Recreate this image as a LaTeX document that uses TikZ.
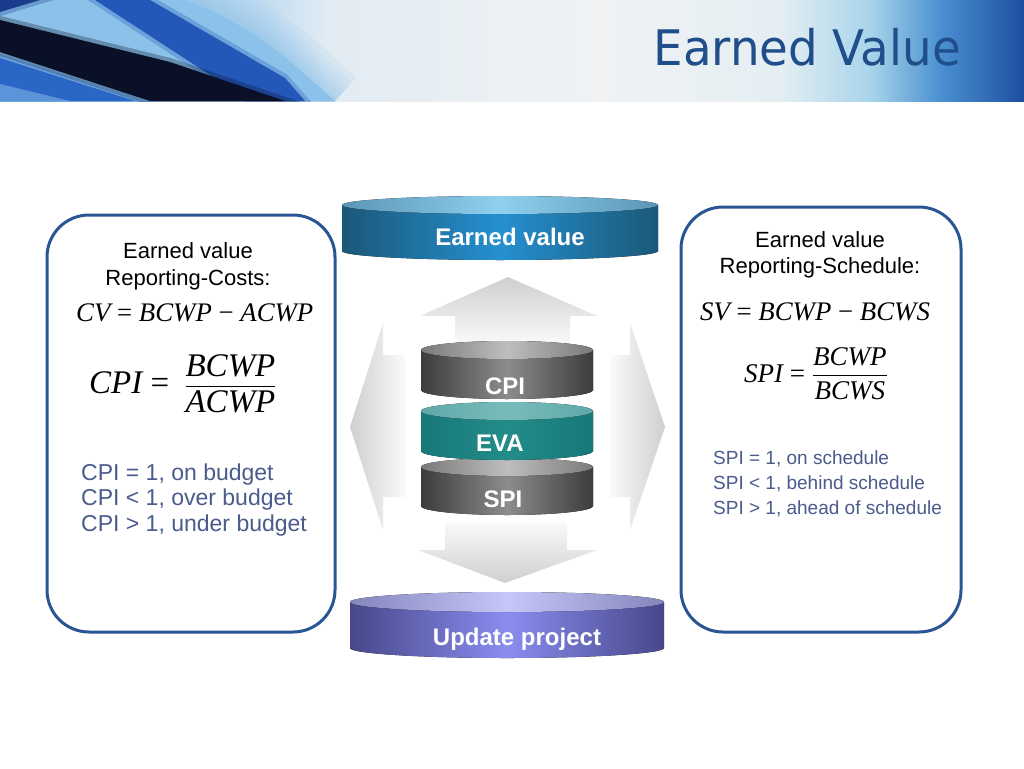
\documentclass[tikz,border=0pt]{standalone}
\usepackage{fontspec}
\usepackage{amsmath}
\setmainfont{Liberation Sans}
\newfontfamily\eqf{Liberation Serif}
\newfontfamily\ttlf[FakeStretch=1.06]{DejaVu Sans Condensed}
\definecolor{hA}{HTML}{9CC8EA}
\definecolor{hB}{HTML}{A8D0EE}
\definecolor{hC}{HTML}{C4DCF0}
\definecolor{hE}{HTML}{E2ECF3}
\definecolor{hF}{HTML}{F0F2F4}
\definecolor{hG}{HTML}{E4EEF3}
\definecolor{hH}{HTML}{A8D4EA}
\definecolor{hI}{HTML}{4A90D0}
\definecolor{hJ}{HTML}{1E4EA0}
\definecolor{lblue}{HTML}{8CC2EA}
\definecolor{sblue}{HTML}{2358B8}
\definecolor{mblue}{HTML}{2A66C6}
\definecolor{cblue}{HTML}{1A3C8C}
\definecolor{navy}{HTML}{0A1028}
\definecolor{titlec}{HTML}{1F4E8A}
\definecolor{boxc}{HTML}{2A5594}
\definecolor{bulc}{HTML}{4A5B8C}
\definecolor{evEdge}{HTML}{1A5878}
\definecolor{evMid}{HTML}{2590D0}
\definecolor{evTopE}{HTML}{5B95B5}
\definecolor{evTopM}{HTML}{90D0EE}
\definecolor{upEdge}{HTML}{46488A}
\definecolor{upMid}{HTML}{8A8CF0}
\definecolor{upTopE}{HTML}{8486BC}
\definecolor{upTopM}{HTML}{C6C6F8}
\definecolor{gEdge}{HTML}{3C3C3C}
\definecolor{gMid}{HTML}{8C8C8C}
\definecolor{gTopE}{HTML}{7A7A7A}
\definecolor{gTopM}{HTML}{BEBEBE}
\definecolor{tEdge}{HTML}{18787A}
\definecolor{tMid}{HTML}{228C88}
\definecolor{tTopE}{HTML}{5EA8A8}
\definecolor{tTopM}{HTML}{78BCBA}
\definecolor{arrD}{HTML}{CFCFCF}
\definecolor{arrL}{HTML}{FAFAFA}
\pgfdeclarehorizontalshading{hdr}{100bp}{color(0bp)=(hA); color(25bp)=(hA);
 color(30.9bp)=(hB); color(38bp)=(hC); color(41.1bp)=(hE);
 color(54.3bp)=(hF); color(63.1bp)=(hG); color(67.5bp)=(hH); color(70.9bp)=(hI);
 color(75bp)=(hJ); color(100bp)=(hJ)}
% cx, rx, ytop, ybot, ry, bodyEdge, bodyMid, topEdge, topMid
\newcommand\mycyl[9]{%
 \pgfmathsetmacro\cylxa{#1-#2}\pgfmathsetmacro\cylxb{#1+#2}%
 \pgfmathsetmacro\cylkx{0.5523*#2}\pgfmathsetmacro\cylky{0.5523*#5}%
 \fill[left color=#6,right color=#6,middle color=#7] (\cylxa,#3) -- (\cylxa,#4)
   .. controls (\cylxa,{#4+\cylky}) and ({#1-\cylkx},{#4+#5}) .. (#1,{#4+#5})
   .. controls ({#1+\cylkx},{#4+#5}) and (\cylxb,{#4+\cylky}) .. (\cylxb,#4)
   -- (\cylxb,#3) -- cycle;
 \fill[left color=#8,right color=#8,middle color=#9] (#1,#3) ellipse[x radius=#2,y radius=#5];
}
\begin{document}
\begin{tikzpicture}[x=1pt,y=-1pt,
  hd/.style={font=\fontsize{22}{26}\selectfont,anchor=base,inner sep=0pt},
  bul/.style={font=\fontsize{23}{26}\selectfont,text=bulc,anchor=base west,inner sep=0pt},
  bulr/.style={font=\fontsize{19}{23}\selectfont,text=bulc,anchor=base west,inner sep=0pt},
  eqn/.style={font=\eqf\fontsize{26.8}{30}\selectfont,anchor=base west,inner sep=0pt},
  cyltxt/.style={font=\bfseries\fontsize{24}{28}\selectfont,text=white,inner sep=0pt,anchor=base},
  panel/.style={draw=boxc,line width=3pt,rounded corners=42pt,fill=white},
  soft/.style={fill=#1,draw=#1,line width=8pt,draw opacity=0.3},
  halo/.style={draw=lblue,line width=#1,draw opacity=0.12}
]
\useasboundingbox (0,0) rectangle (1024,768);
\fill[white] (0,0) rectangle (1024,768);
% header
\begin{scope}
\clip (0,0) rectangle (1024,101);
\shade[shading=hdr] (0,0) rectangle (1024,101);
\foreach \w in {64pt,50pt,38pt,28pt,20pt,12pt,6pt}
  \draw[halo=\w] (185,0) .. controls (255,25) and (300,70) .. (335,101);
\fill[lblue] (0,0) -- (185,0) .. controls (255,25) and (300,70) .. (335,101) -- (0,101) -- cycle;
\fill[soft=sblue] (95,0) -- (150,0) -- (285,78) -- (305,101) -- (250,101) -- cycle;
\fill[soft=cblue] (0,0) -- (40,0) -- (0,12) -- cycle;
\fill[soft=navy] (0,20) -- (170,62) -- (285,101) -- (150,101) -- (0,52) -- cycle;
\fill[soft=mblue] (0,58) -- (135,101) -- (0,101) -- cycle;
\fill[lblue,opacity=0.5] (0,84) -- (70,101) -- (0,101) -- cycle;
\end{scope}
\node[font=\ttlf\fontsize{49}{56}\selectfont,text=titlec,anchor=base east,inner sep=0pt] (title) at (961,65) {Earned Value};
% panels
\draw[panel] (47,215) rectangle (335,632);
\draw[panel] (681,207) rectangle (961,632);
% left panel text
\node[hd] (l1) at (188,258) {Earned value};
\node[hd] (l2) at (188,285) {Reporting-Costs:};
\node[eqn] (cv) at (76,321) {\itshape CV\upshape{} = \itshape BCWP\upshape{} − \itshape ACWP};
\node[eqn,font=\eqf\fontsize{33}{36}\selectfont] (cpi) at (89,393) {\itshape CPI\upshape{} = $\;\dfrac{\hbox{\itshape BCWP}}{\hbox{\itshape ACWP}}$};
\node[bul] (b1) at (81,480) {CPI = 1, on budget};
\node[bul] (b2) at (81,505.5) {CPI < 1, over budget};
\node[bul] (b3) at (81,531) {CPI > 1, under budget};
% right panel text
\node[hd] (r1) at (820,247) {Earned value};
\node[hd] (r2) at (820,273) {Reporting-Schedule:};
\node[eqn] (sv) at (700,320) {\itshape SV\upshape{} = \itshape BCWP\upshape{} − \itshape BCWS};
\node[eqn,font=\eqf\fontsize{27}{31}\selectfont] (spi) at (744,382) {\itshape SPI\upshape{} = $\dfrac{\hbox{\itshape BCWP}}{\hbox{\itshape BCWS}}$};
\node[bulr] (s1) at (713,464) {SPI = 1, on schedule};
\node[bulr] (s2) at (713,489) {SPI < 1, behind schedule};
\node[bulr] (s3) at (713,514) {SPI > 1, ahead of schedule};
% gray arrows
\shade[top color=arrD,bottom color=arrL] (508,277) -- (597,316) -- (570,316) -- (570,345) -- (455,345) -- (455,316) -- (420,316) -- cycle;
\shade[top color=arrL,bottom color=arrD] (445,522) -- (567,522) -- (567,550) -- (597,550) -- (505,583) -- (418,550) -- (445,550) -- cycle;
\shade[left color=arrD,right color=arrL] (350,427) -- (383,323) -- (383,355) -- (405,355) -- (405,497) -- (383,497) -- (383,530) -- cycle;
\shade[left color=arrL,right color=arrD] (665,427) -- (630,323) -- (630,355) -- (610,355) -- (610,497) -- (630,497) -- (630,530) -- cycle;
% discs and cylinders
\mycyl{500}{158}{205}{251}{9}{evEdge}{evMid}{evTopE}{evTopM}
\node[cyltxt] (ev) at (510,245) {Earned value};
\mycyl{507}{86}{467}{506}{9}{gEdge}{gMid}{gTopE}{gTopM}
\node[cyltxt] (spic) at (503,507) {SPI};
\mycyl{507}{86}{411}{451}{9}{tEdge}{tMid}{tTopE}{tTopM}
\node[cyltxt] (eva) at (500,451) {EVA};
\mycyl{507}{86}{350}{390}{9}{gEdge}{gMid}{gTopE}{gTopM}
\node[cyltxt] (cpic) at (505,394) {CPI};
\mycyl{507}{157}{602}{648}{10}{upEdge}{upMid}{upTopE}{upTopM}
\node[cyltxt] (up) at (517,645) {Update project};
\end{tikzpicture}
\end{document}
